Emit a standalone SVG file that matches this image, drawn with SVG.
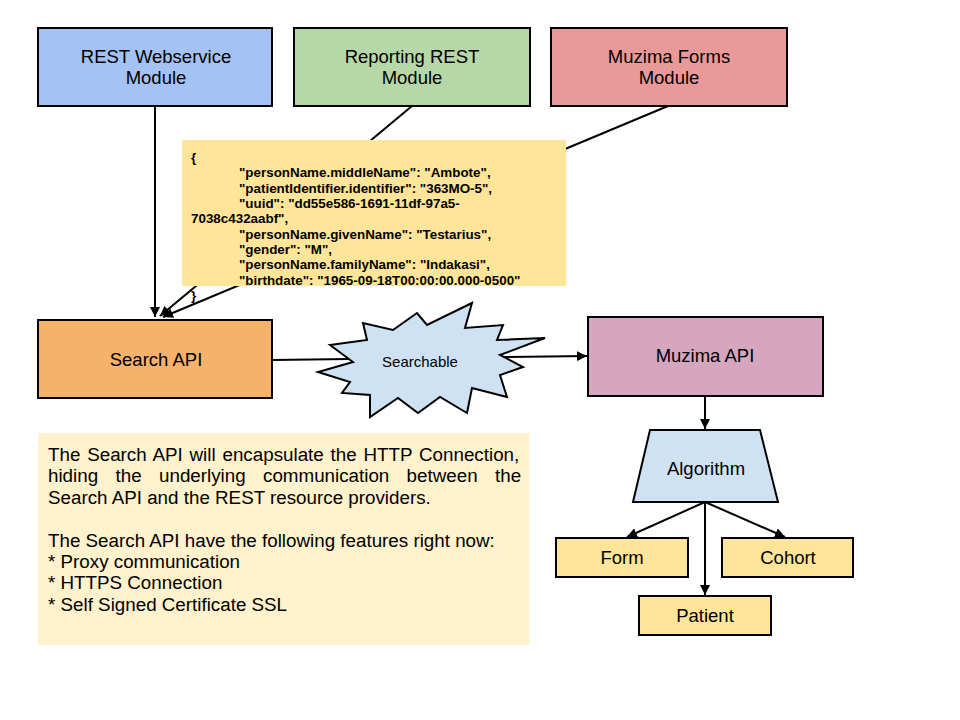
<svg xmlns="http://www.w3.org/2000/svg" width="960" height="720" viewBox="0 0 960 720">
<defs>
<marker id="arr" viewBox="0 0 10 10" refX="10" refY="5" markerWidth="5" markerHeight="5" orient="auto" markerUnits="strokeWidth">
<path d="M0,0 L10,5 L0,10 z" fill="#000"/>
</marker>
<style>
.box{stroke:#000;stroke-width:2}
.lbl{font-family:"Liberation Sans",Arial,sans-serif;font-size:18.5px;fill:#000;text-anchor:middle}
.conn{stroke:#000;stroke-width:2;fill:none}
.json{font-family:"Liberation Sans",Arial,sans-serif;font-size:13.4px;font-weight:bold;fill:#000}
.note{font-family:"Liberation Sans",Arial,sans-serif;font-size:18.8px;fill:#000}
</style>
</defs>
<rect width="960" height="720" fill="#fff"/>
<g id="connectors">
<line class="conn" x1="155" y1="106" x2="155" y2="317" marker-end="url(#arr)"/>
<line class="conn" x1="412" y1="106" x2="160" y2="316" marker-end="url(#arr)"/>
<line class="conn" x1="668" y1="106" x2="163" y2="317" marker-end="url(#arr)"/>
<line class="conn" x1="272" y1="360" x2="350" y2="359"/>
<line class="conn" x1="503" y1="357" x2="587" y2="356" marker-end="url(#arr)"/>
<line class="conn" x1="705" y1="396" x2="705" y2="429" marker-end="url(#arr)"/>
<line class="conn" x1="705" y1="502" x2="627" y2="537" marker-end="url(#arr)"/>
<line class="conn" x1="705" y1="502" x2="785" y2="537" marker-end="url(#arr)"/>
<line class="conn" x1="705" y1="502" x2="705" y2="595" marker-end="url(#arr)"/>
</g>
<g id="rest-webservice">
<rect class="box" x="38" y="28" width="234" height="78" fill="#a4c2f4"/>
<text class="lbl" x="156" y="63">REST Webservice</text>
<text class="lbl" x="156" y="84">Module</text>
</g>
<g id="reporting-rest">
<rect class="box" x="294" y="28" width="236" height="78" fill="#b6d7a8"/>
<text class="lbl" x="412" y="63">Reporting REST</text>
<text class="lbl" x="412" y="84">Module</text>
</g>
<g id="muzima-forms">
<rect class="box" x="551" y="28" width="236" height="78" fill="#ea9999"/>
<text class="lbl" x="669" y="63">Muzima Forms</text>
<text class="lbl" x="669" y="84">Module</text>
</g>
<g id="json-note">
<rect x="182" y="140" width="384" height="146" fill="#ffe599"/>
<text class="json" x="191" y="162">{</text>
<text class="json" x="239" y="177">"personName.middleName": "Ambote",</text>
<text class="json" x="239" y="193">"patientIdentifier.identifier": "363MO-5",</text>
<text class="json" x="239" y="208">"uuid": "dd55e586-1691-11df-97a5-</text>
<text class="json" x="191" y="223">7038c432aabf",</text>
<text class="json" x="239" y="239">"personName.givenName": "Testarius",</text>
<text class="json" x="239" y="254">"gender": "M",</text>
<text class="json" x="239" y="269">"personName.familyName": "Indakasi",</text>
<text class="json" x="239" y="285">"birthdate": "1965-09-18T00:00:00.000-0500"</text>
<text class="json" x="191" y="300">}</text>
</g>
<g id="search-api">
<rect class="box" x="38" y="320" width="234" height="78" fill="#f6b26b"/>
<text class="lbl" x="156" y="366">Search API</text>
</g>
<g id="searchable">
<polygon class="box" fill="#cfe2f3" points="330,345 367,340 363,323 393,330 417,313 427,325 472,303 465,328 503,325 497,340 545,338 500,355 523,367 500,375 507,397 472,388 467,413 440,397 418,413 398,398 370,417 370,395 342,393 350,382 318,372 353,362"/>
<text x="420" y="367" font-family="Liberation Sans, Arial, sans-serif" font-size="15" text-anchor="middle">Searchable</text>
</g>
<g id="muzima-api">
<rect class="box" x="588" y="317" width="235" height="79" fill="#d5a6bd"/>
<text class="lbl" x="705" y="362">Muzima API</text>
</g>
<g id="algorithm">
<polygon class="box" fill="#cfe2f3" points="650,430 760,430 778,502 633,502"/>
<text class="lbl" x="706" y="475">Algorithm</text>
</g>
<g id="form">
<rect class="box" x="556" y="538" width="132" height="39" fill="#ffe599"/>
<text class="lbl" x="622" y="564">Form</text>
</g>
<g id="cohort">
<rect class="box" x="722" y="538" width="131" height="39" fill="#ffe599"/>
<text class="lbl" x="788" y="564">Cohort</text>
</g>
<g id="patient">
<rect class="box" x="639" y="596" width="132" height="39" fill="#ffe599"/>
<text class="lbl" x="705" y="622">Patient</text>
</g>
<g id="description">
<rect x="38" y="433" width="491" height="212" fill="#fff2cc"/>
<text class="note" x="48" y="461" word-spacing="1.6">The Search API will encapsulate the HTTP Connection,</text>
<text class="note" y="482"><tspan x="48">hiding</tspan><tspan x="115.5">the</tspan><tspan x="159">underlying</tspan><tspan x="263">communication</tspan><tspan x="406.6">between</tspan><tspan x="495">the</tspan></text>
<text class="note" x="48" y="504">Search API and the REST resource providers.</text>
<text class="note" x="48" y="547">The Search API have the following features right now:</text>
<text class="note" x="48" y="568">* Proxy communication</text>
<text class="note" x="48" y="589">* HTTPS Connection</text>
<text class="note" x="48" y="611">* Self Signed Certificate SSL</text>
</g>
</svg>
